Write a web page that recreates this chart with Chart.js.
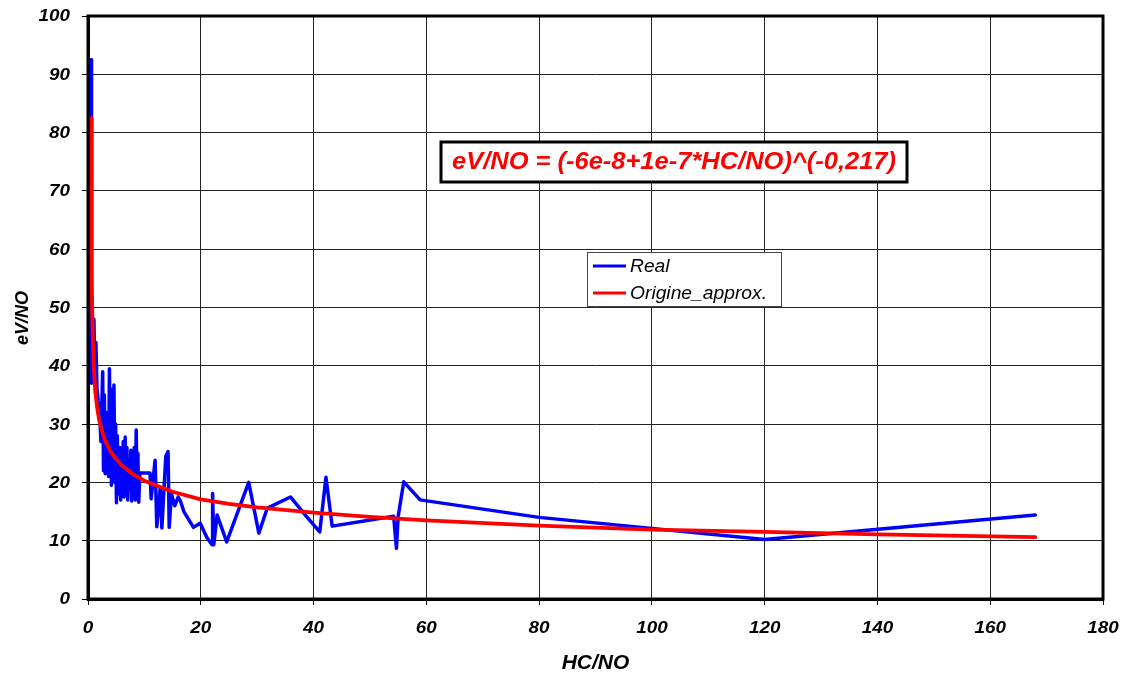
<!DOCTYPE html>
<html>
<head>
<meta charset="utf-8">
<title>eV/NO vs HC/NO</title>
<script src="https://cdn.jsdelivr.net/npm/chart.js@4/dist/chart.umd.min.js"></script>
<style>
  html, body { margin: 0; padding: 0; background: #fff; }
  #c { display: block; }
</style>
</head>
<body>
<canvas id="c" width="1125" height="675"></canvas>
<script>
// Measured series: HC/NO ratio and eV/NO
const hcNo = [0.5, 0.55, 0.6, 0.65, 0.75, 0.9, 1.05, 1.2, 1.4, 1.6, 1.8,
  2.0, 2.3, 2.6, 2.75, 2.9, 3.05, 3.2, 3.35, 3.5, 3.65, 3.8, 3.95, 4.05, 4.15, 4.3, 4.45, 4.6, 4.75, 4.9, 5.05,
  5.2, 5.35, 5.5, 5.65, 5.8, 5.95, 6.1, 6.25, 6.4, 6.6, 6.75, 6.9, 7.05, 7.2, 7.4, 7.6, 7.75, 7.9, 8.05, 8.2,
  8.4, 8.55, 8.7, 8.85, 9.0, 9.2, 11.0, 11.2, 11.9, 12.2, 12.8, 13.1, 13.8, 14.2,
  14.4, 14.8, 15.4, 16.0, 16.4, 17.0, 18.7, 19.9, 21.1, 22.0, 22.1, 22.3, 22.9, 24.6, 28.5, 30.3, 31.8, 35.9, 38.8, 41.1,
  42.2, 43.3, 54.2, 54.7, 55.0, 56.0, 58.9, 80.0, 120.0, 168.0];
const evNoReal = [45, 92.5, 60, 37, 46, 38, 48, 40, 44, 36, 34,
  33, 27, 39, 22, 35, 21.5, 32, 23, 30, 21, 39.5, 24, 36, 19.5, 33, 22, 36.7, 20, 30, 16.5,
  28, 18, 26, 22, 17, 25, 19, 27, 17.5, 27.8, 20, 26, 17, 24, 19, 25.5, 16.8, 24, 18, 26,
  17, 29, 19, 25, 16.6, 21.6, 21.6, 17.2, 23.8, 12.4, 19, 12.2, 24.5, 25.3,
  12.3, 18, 16, 17.5, 16.8, 15, 12.3, 13, 10.5, 9.3, 18.1, 9.3, 14.4, 9.8, 20, 11.3, 15.6, 17.5, 14.1, 11.5,
  20.9, 12.5, 14.2, 8.7, 14.1, 20.1, 17, 14, 10.2, 14.4];

// Fitted curve: eV/NO = (-6e-8 + 1e-7*HC/NO)^(-0,217)
const approxX = [0.615, 0.63, 0.65, 0.7, 0.8, 1.0, 1.3, 1.6, 2.0, 2.5, 3, 4, 5, 6, 8, 10, 12, 15, 20, 25,
  30, 40, 50, 60, 80, 100, 120, 140, 168];
const approxY = [82.5, 70.5, 63, 54.4, 46.8, 40.3, 35.5, 33.0, 30.6, 28.8, 27.3, 25.3, 24.0, 22.9, 21.4, 20.3, 19.5, 18.4, 17.1, 16.3,
  15.7, 14.8, 14.1, 13.5, 12.6, 11.9, 11.5, 11.1, 10.6];

const xTicks = [0, 20, 40, 60, 80, 100, 120, 140, 160, 180];
const yTicks = [0, 10, 20, 30, 40, 50, 60, 70, 80, 90, 100];

const seriesNames = ['Real', 'Origine_approx.'];
const seriesColors = ['#0000ff', '#ff0000'];
const formulaText = 'eV/NO = (-6e-8+1e-7*HC/NO)^(-0,217)';
const xTitle = 'HC/NO';
const yTitle = 'eV/NO';

const FONT = "'Liberation Sans', Arial, sans-serif";
const TICK_FONT = 'italic bold 16px ' + FONT;
const TEXT_STRETCH = 1.18;

const toPoints = (xs, ys) => xs.map((x, i) => ({ x: x, y: ys[i] }));

// text drawn with a horizontal stretch factor
function wideText(ctx, text, x, y, align, sx) {
  const w = ctx.measureText(text).width * sx;
  let left = x;
  if (align === 'center') left = x - w / 2;
  else if (align === 'right') left = x - w;
  ctx.save();
  ctx.translate(left, y);
  ctx.scale(sx, 1);
  ctx.textAlign = 'left';
  ctx.fillText(text, 0, 0);
  ctx.restore();
}

// Frame, tick labels, axis titles, formula box and legend box
const decorations = {
  id: 'decorations',
  afterDraw(chart) {
    const ctx = chart.ctx;
    const a = chart.chartArea;
    const xs = chart.scales.x, ys = chart.scales.y;
    ctx.save();

    // plot frame
    ctx.strokeStyle = '#000';
    ctx.lineWidth = 3;
    ctx.strokeRect(a.left, a.top, a.right - a.left, a.bottom - a.top);

    // tick labels
    ctx.fillStyle = '#000';
    ctx.font = TICK_FONT;
    ctx.textBaseline = 'middle';
    xTicks.forEach(v => wideText(ctx, String(v), xs.getPixelForValue(v), a.bottom + 30, 'center', TEXT_STRETCH));
    yTicks.forEach(v => wideText(ctx, String(v), a.left - 18, ys.getPixelForValue(v) + 1, 'right', TEXT_STRETCH));

    // axis titles
    ctx.font = 'italic bold 20px ' + FONT;
    wideText(ctx, xTitle, (a.left + a.right) / 2, 663, 'center', 1.05);
    ctx.save();
    ctx.translate(23, 318);
    ctx.rotate(-Math.PI / 2);
    ctx.font = 'italic bold 18px ' + FONT;
    ctx.textAlign = 'center';
    ctx.fillText(yTitle, 0, 0);
    ctx.restore();

    // formula box
    const fx = 441, fy = 142, fw = 466, fh = 40;
    ctx.fillStyle = '#fff';
    ctx.fillRect(fx, fy, fw, fh);
    ctx.lineWidth = 3;
    ctx.strokeStyle = '#000';
    ctx.strokeRect(fx, fy, fw, fh);
    ctx.font = 'italic bold 23px ' + FONT;
    ctx.fillStyle = '#ff0000';
    const tw = ctx.measureText(formulaText).width;
    wideText(ctx, formulaText, fx + fw / 2, fy + fh / 2 + 1, 'center', 444 / tw);

    // legend box
    const lx = 587.5, ly = 252.5, lw = 194, lh = 54;
    ctx.fillStyle = '#fff';
    ctx.fillRect(lx, ly, lw, lh);
    ctx.lineWidth = 1;
    ctx.strokeStyle = '#444';
    ctx.strokeRect(lx, ly, lw, lh);
    const rows = [266, 293];
    ctx.font = 'italic 18px ' + FONT;
    const nameScale = 137 / ctx.measureText(seriesNames[1]).width;
    seriesNames.forEach((name, i) => {
      ctx.strokeStyle = seriesColors[i];
      ctx.lineWidth = 3;
      ctx.beginPath();
      ctx.moveTo(593, rows[i]);
      ctx.lineTo(626, rows[i]);
      ctx.stroke();
      ctx.fillStyle = '#000';
      wideText(ctx, name, 630, rows[i] + 1, 'left', nameScale);
    });

    ctx.restore();
  }
};

new Chart(document.getElementById('c'), {
  type: 'scatter',
  data: {
    datasets: [
      {
        label: seriesNames[0],
        data: toPoints(hcNo, evNoReal),
        showLine: true,
        borderColor: seriesColors[0],
        backgroundColor: seriesColors[0],
        borderWidth: 3.5,
        borderJoinStyle: 'round',
        borderCapStyle: 'round',
        pointRadius: 0,
        tension: 0,
        order: 1
      },
      {
        label: seriesNames[1],
        data: toPoints(approxX, approxY),
        showLine: true,
        borderColor: seriesColors[1],
        backgroundColor: seriesColors[1],
        borderWidth: 3.8,
        borderJoinStyle: 'round',
        borderCapStyle: 'round',
        pointRadius: 0,
        tension: 0,
        order: 0
      }
    ]
  },
  options: {
    responsive: false,
    animation: false,
    devicePixelRatio: 1,
    layout: { padding: { left: 0, right: 22, top: 16, bottom: 0 } },
    plugins: {
      legend: { display: false },
      tooltip: { enabled: false }
    },
    scales: {
      x: {
        type: 'linear',
        min: xTicks[0],
        max: xTicks[xTicks.length - 1],
        afterFit(scale) { scale.height = 76; },
        afterBuildTicks(scale) { scale.ticks = xTicks.map(v => ({ value: v })); },
        ticks: { display: false },
        grid: { color: '#222', lineWidth: 1, tickLength: 6, tickColor: '#000' },
        border: { color: '#000', width: 3 }
      },
      y: {
        type: 'linear',
        min: yTicks[0],
        max: yTicks[yTicks.length - 1],
        afterFit(scale) { scale.width = 88; },
        afterBuildTicks(scale) { scale.ticks = yTicks.map(v => ({ value: v })); },
        ticks: { display: false },
        grid: { color: '#222', lineWidth: 1, tickLength: 6, tickColor: '#000' },
        border: { color: '#000', width: 3 }
      }
    }
  },
  plugins: [decorations]
});
</script>
</body>
</html>
